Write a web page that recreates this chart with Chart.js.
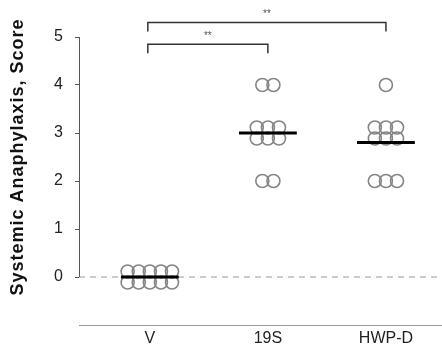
<!DOCTYPE html>
<html>
<head>
<meta charset="utf-8">
<script src="https://cdn.jsdelivr.net/npm/chart.js@4/dist/chart.umd.min.js"></script>
<style>
  html, body { margin: 0; padding: 0; background: #fff; }
  #wrap { width: 442px; height: 355px; }
</style>
</head>
<body>
<div id="wrap"><canvas id="chart"></canvas></div>
<script>
// data
const groups = ["V", "19S", "HWP-D"];
const scoresV = [0, 0, 0, 0, 0, 0, 0, 0, 0, 0];
const scores19S = [4, 4, 3, 3, 3, 3, 3, 3, 2, 2];
const scoresHWPD = [4, 3, 3, 3, 3, 3, 3, 2, 2, 2];
const yTicks = [0, 1, 2, 3, 4, 5];
const yTitle = "Systemic Anaphylaxis, Score";
// significance brackets: [from group, to group, label]
const sigPairs = [[0, 2, "**"], [0, 1, "**"]];

const allScores = [scoresV, scores19S, scoresHWPD];

// lay equal scores out side by side (rows of up to 5)
function swarm(scores, gx) {
  const byVal = {};
  scores.forEach(v => (byVal[v] = byVal[v] || []).push(v));
  const pts = [];
  Object.keys(byVal).forEach(k => {
    const n = byVal[k].length;
    const rows = n > 5 ? 2 : 1;
    const per = Math.ceil(n / rows);
    for (let r = 0; r < rows; r++) {
      const cnt = Math.min(per, n - r * per);
      for (let j = 0; j < cnt; j++) {
        pts.push({
          x: gx + (j - (cnt - 1) / 2) * 0.094,
          y: +k + (rows > 1 ? (r === 0 ? 0.115 : -0.115) : 0)
        });
      }
    }
  });
  return pts;
}

const mean = a => a.reduce((s, v) => s + v, 0) / a.length;

const datasets = [];
datasets.push({
  data: allScores.flatMap((s, i) => swarm(s, i + 1)),
  pointRadius: 6.5,
  pointBorderWidth: 1.6,
  borderColor: "#858585",
  backgroundColor: "rgba(0,0,0,0)",
  order: 2
});
allScores.forEach((s, i) => {
  const m = mean(s);
  datasets.push({
    data: [{ x: i + 1 - 0.245, y: m }, { x: i + 1 + 0.245, y: m }],
    showLine: true,
    borderColor: "#000",
    borderWidth: 3,
    pointRadius: 0,
    order: 1
  });
});
datasets.push({
  data: [{ x: 0.4, y: 0 }, { x: 3.475, y: 0 }],
  showLine: true,
  borderColor: "#999",
  borderWidth: 1,
  borderDash: [6, 5],
  pointRadius: 0,
  order: 3
});

const extras = {
  id: "extras",
  afterDraw(chart) {
    const ctx = chart.ctx;
    const xs = chart.scales.x, ys = chart.scales.y;
    const y0 = ys.getPixelForValue(0), y5 = ys.getPixelForValue(5);
    ctx.save();
    // y axis line from 0 to 5 only
    ctx.strokeStyle = "#555";
    ctx.lineWidth = 1;
    ctx.beginPath();
    ctx.moveTo(xs.left + 0.5, y5);
    ctx.lineTo(xs.left + 0.5, y0);
    ctx.stroke();

    // axis title, centred on the 0..5 range
    ctx.fillStyle = "#111";
    ctx.font = "bold 18px 'Liberation Sans', Arial, sans-serif";
    ctx.letterSpacing = "1px";
    ctx.textAlign = "center";
    ctx.textBaseline = "middle";
    ctx.translate(18, (y0 + y5) / 2);
    ctx.rotate(-Math.PI / 2);
    ctx.fillText(yTitle, 0, 0);
    ctx.setTransform(1, 0, 0, 1, 0, 0);
    ctx.letterSpacing = "0px";

    // significance brackets
    const levels = [5.3, 4.85];
    sigPairs.forEach((p, i) => {
      const yb = ys.getPixelForValue(levels[i]);
      const drop = 9;
      const xa = xs.getPixelForValue(p[0] + 1) - 2;
      const xb = xs.getPixelForValue(p[1] + 1);
      ctx.strokeStyle = "#333";
      ctx.lineWidth = 1.5;
      ctx.beginPath();
      ctx.moveTo(xa, yb + drop);
      ctx.lineTo(xa, yb);
      ctx.lineTo(xb, yb);
      ctx.lineTo(xb, yb + drop);
      ctx.stroke();
      ctx.fillStyle = "#555";
      ctx.font = "10px 'Liberation Sans', Arial, sans-serif";
      ctx.textAlign = "center";
      ctx.textBaseline = "middle";
      ctx.fillText(p[2], (xa + xb) / 2, yb - 8);
    });
    ctx.restore();
  }
};

Chart.defaults.font.family = "'Liberation Sans', Arial, sans-serif";

new Chart(document.getElementById("chart"), {
  type: "scatter",
  data: { datasets },
  options: {
    responsive: true,
    maintainAspectRatio: false,
    animation: false,
    layout: { autoPadding: false, padding: { top: 37, right: 0, left: 0, bottom: 0 } },
    plugins: { legend: { display: false }, tooltip: { enabled: false } },
    scales: {
      x: {
        type: "linear",
        min: 0.4,
        max: 3.475,
        afterBuildTicks: s => { s.ticks = groups.map((g, i) => ({ value: i + 1 })); },
        afterFit: s => { s.height = 30; },
        ticks: {
          callback: v => groups[v - 1],
          font: { size: 16 },
          color: "#222",
          padding: 4,
          maxRotation: 0
        },
        grid: { drawOnChartArea: false, drawTicks: false },
        border: { display: true, color: "#999", width: 1 }
      },
      y: {
        min: -1,
        max: 5,
        afterBuildTicks: s => { s.ticks = yTicks.map(v => ({ value: v })); },
        afterFit: s => { s.width = 79; },
        ticks: { font: { size: 16 }, color: "#222", padding: 12 },
        grid: { drawOnChartArea: false, tickLength: 4, color: "#555" },
        border: { display: false }
      }
    }
  },
  plugins: [extras]
});
</script>
</body>
</html>
